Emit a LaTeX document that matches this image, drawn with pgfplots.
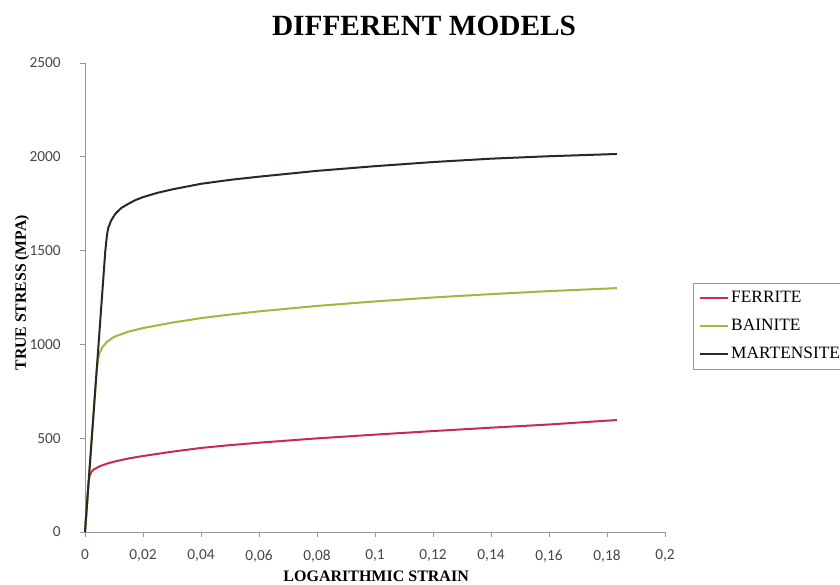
\documentclass[border=0pt]{standalone}
\usepackage{fontspec}
\setmainfont{Liberation Serif}
\newfontfamily\carlito{Carlito}
\usepackage{pgfplots}
\pgfplotsset{compat=1.18}
\definecolor{ferr}{RGB}{200,40,90}
\definecolor{bain}{RGB}{155,187,60}
\definecolor{mart}{RGB}{38,42,36}
\definecolor{axgray}{RGB}{150,150,150}
\definecolor{tkgray}{RGB}{70,70,70}
\begin{document}
\begin{tikzpicture}
\path[use as bounding box] (-63.75pt,-39.75pt) rectangle (566.25pt,399pt);
\begin{axis}[
  at={(0,0)}, anchor=south west,
  scale only axis, width=435pt, height=351.75pt,
  xmin=0, xmax=0.2, ymin=0, ymax=2500,
  axis lines*=left,
  axis line style={axgray, line width=0.6pt},
  xtick={0,0.02,0.04,0.06,0.08,0.1,0.12,0.14,0.16,0.18,0.2},
  ytick={0,500,1000,1500,2000,2500},
  tick align=outside,
  major tick length=3.75pt,
  tick style={axgray, line width=0.6pt},
  /pgf/number format/assume math mode=true,
  /pgf/number format/use comma,
  /pgf/number format/1000 sep={},
  /pgf/number format/fixed,
  /pgf/number format/precision=2,
  ticklabel style={font=\carlito\fontsize{11.5}{13}\selectfont, text=tkgray},
  yticklabel style={xshift=-11pt},
  xticklabel style={yshift=-6pt},
  title={DIFFERENT MODELS},
  title style={at={(0.5845,1.062)}, anchor=center, font=\bfseries\fontsize{22}{24}\selectfont},
  xlabel={LOGARITHMIC STRAIN},
  xlabel style={at={(axis description cs:0.502,-0.0938)}, anchor=center, font=\bfseries\fontsize{12}{14}\selectfont},
  ylabel={TRUE STRESS (MPA)},
  ylabel style={at={(axis description cs:-0.1086,0.51)}, anchor=center, rotate=0, font=\bfseries\fontsize{11.8}{13}\selectfont},
  legend style={at={(1.048,0.531)}, anchor=north west, draw=axgray, line width=0.6pt,
    font=\fontsize{13}{14}\selectfont, row sep=7pt, inner xsep=4pt, inner ysep=4pt,
    cells={anchor=west}},
  legend image code/.code={\draw[#1, line width=1.5pt] (0pt,0pt) -- (21pt,0pt);},
  clip=false,
]
\addplot[ferr, line width=1.5pt] coordinates {
(0,0) (0.0012,260) (0.0016,300) (0.0022,320) (0.003,333) (0.005,350) (0.0075,364) (0.01,375) (0.015,392) (0.02,405) (0.03,428) (0.04,448)
(0.05,463) (0.06,476) (0.08,499) (0.1,519) (0.12,538) (0.14,556) (0.16,573) (0.1834,597)};
\addlegendentry{FERRITE}
\addplot[bain, line width=1.5pt] coordinates {
(0,0) (0.0040,856) (0.0045,920) (0.005,952) (0.006,985) (0.0075,1013) (0.01,1040) (0.015,1068) (0.02,1087) (0.03,1116) (0.04,1140)
(0.05,1159) (0.06,1176) (0.08,1205) (0.1,1229) (0.12,1250) (0.14,1268) (0.16,1284) (0.1834,1300)};
\addlegendentry{BAINITE}
\addplot[mart, line width=1.5pt] coordinates {
(0,0) (0.0070,1498) (0.0076,1585) (0.008,1620) (0.009,1660) (0.0105,1697) (0.0125,1727) (0.015,1750) (0.0175,1770) (0.02,1785) (0.025,1808) (0.03,1826) (0.04,1856)
(0.05,1877) (0.06,1894) (0.08,1925) (0.1,1950) (0.12,1972) (0.14,1990) (0.16,2003) (0.1834,2015)};
\addlegendentry{MARTENSITE}
\end{axis}
\end{tikzpicture}
\end{document}
